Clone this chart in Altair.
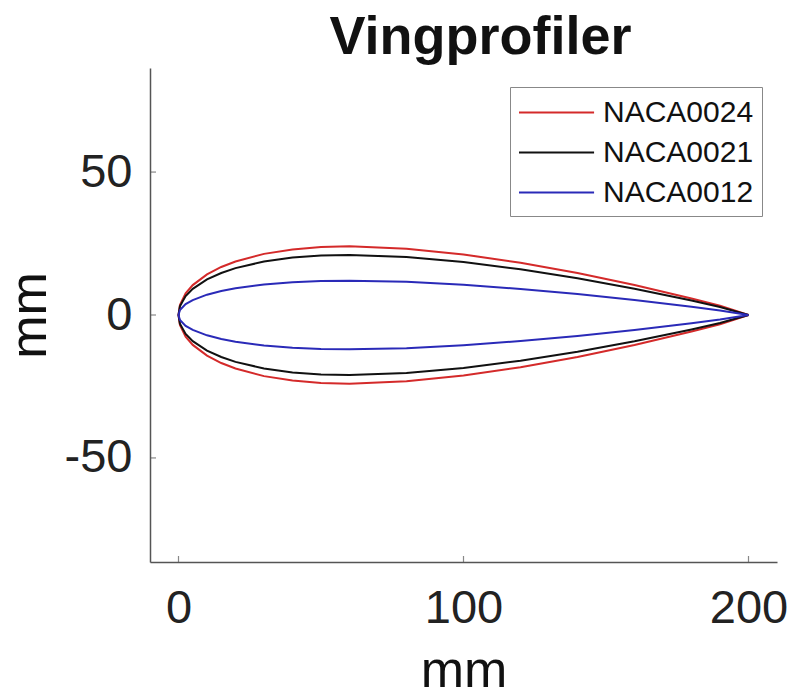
import altair as alt
import pandas as pd

# chord stations (mm) and half-thickness (mm)
x_mm = [0, 0.5, 2.5, 5, 10, 15, 20, 30, 40, 50, 60, 80, 100, 120, 140, 160, 180, 190, 200]
naca0024 = [0, 3.49, 7.58, 10.46, 14.22, 16.80, 18.73, 21.38, 22.95, 23.77, 24.01, 23.21, 21.18, 18.25, 14.66, 10.49, 5.79, 3.23, 0]
naca0021 = [0, 3.05, 6.63, 9.15, 12.44, 14.70, 16.39, 18.71, 20.08, 20.79, 21.01, 20.31, 18.53, 15.97, 12.82, 9.18, 5.07, 2.82, 0]
naca0012 = [0, 1.74, 3.79, 5.23, 7.11, 8.40, 9.37, 10.69, 11.48, 11.88, 12.00, 11.61, 10.59, 9.13, 7.33, 5.25, 2.90, 1.61, 0]

names = ["NACA0024", "NACA0021", "NACA0012"]
colors = ["#d42a2a", "#111111", "#2a2ab8"]
x_ticks = [0, 100, 200]
y_ticks = [-50, 0, 50]

rows = []
for name, half in zip(names, [naca0024, naca0021, naca0012]):
    k = 0
    for xv, yv in zip(reversed(x_mm), reversed(half)):
        rows.append({"profil": name, "x": xv, "y": yv, "o": k}); k += 1
    for xv, yv in zip(x_mm[1:], half[1:]):
        rows.append({"profil": name, "x": xv, "y": -yv, "o": k}); k += 1
df = pd.DataFrame(rows)

font = "Liberation Sans"
xscale = alt.Scale(domain=[-10, 210], nice=False, zero=False)
yscale = alt.Scale(domain=[-86.4, 86.4], nice=False, zero=False)

lines = alt.Chart(df).mark_line(strokeWidth=2, clip=True).encode(
    x=alt.X("x:Q", title="mm", scale=xscale,
            axis=alt.Axis(values=x_ticks, grid=False, ticks=False, labelPadding=23,
                          titlePadding=14, labelExpr="toString(datum.value)")),
    y=alt.Y("y:Q", title="mm", scale=yscale,
            axis=alt.Axis(values=y_ticks, grid=False, ticks=False, labelPadding=18,
                          titlePadding=8, labelExpr="toString(datum.value)")),
    color=alt.Color("profil:N", title=None,
                    scale=alt.Scale(domain=names, range=colors),
                    sort=names,
                    legend=alt.Legend(orient="none", legendX=360, legendY=19,
                                      symbolType="M-1,0H3.55", symbolSize=1089,
                                      symbolStrokeWidth=2,
                                      labelFontSize=30, labelFont=font, labelColor="#111",
                                      strokeColor="#888", fillColor="white", padding=8,
                                      rowPadding=7, labelOffset=50)),
    order="o:Q",
)

xt = alt.Chart(pd.DataFrame({"t": x_ticks})).mark_tick(
    orient="vertical", size=6, thickness=1.2, color="#555").encode(
    x=alt.X("t:Q", scale=xscale), y=alt.value(491))
yt = alt.Chart(pd.DataFrame({"t": y_ticks})).mark_tick(
    orient="horizontal", size=6, thickness=1.2, color="#555").encode(
    y=alt.Y("t:Q", scale=yscale), x=alt.value(3))

chart = alt.layer(lines, xt, yt).properties(
    width=627, height=494,
    title=alt.TitleParams("Vingprofiler", fontSize=54, fontWeight="bold", font=font,
                          color="#111", dx=17, offset=3),
    autosize=alt.AutoSizeParams(type="none"),
    padding={"left": 142, "top": 60, "right": 10, "bottom": 130},
).configure_view(stroke=None).configure_axis(
    labelFont=font, titleFont=font, labelFontSize=47, titleFontSize=52,
    labelColor="#222", titleColor="#111", domainColor="#555", tickColor="#555",
    titleFontWeight="normal", domainWidth=1.5,
)

chart.save("out.html", embed_options={"renderer": "svg", "actions": False})
